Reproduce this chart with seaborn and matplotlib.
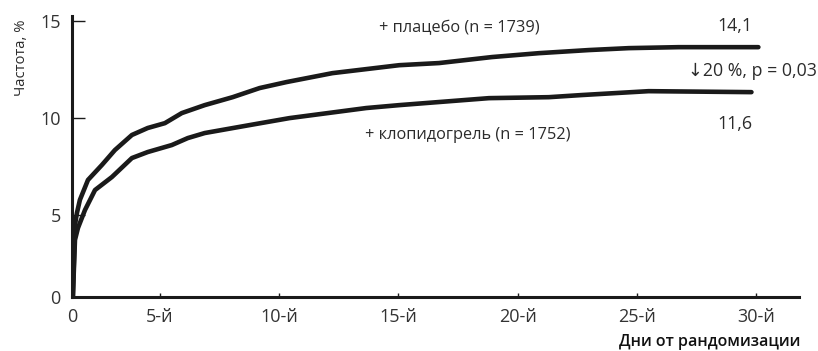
import numpy as np
import pandas as pd
import matplotlib
matplotlib.use("Agg")
import matplotlib.pyplot as plt
import seaborn as sns

# ---- data ----
placebo_days = [0.05, 0.17, 0.28, 0.45, 0.91, 1.70, 2.44, 3.41, 4.31, 5.21, 5.92, 6.88,
                8.05, 9.18, 10.31, 12.23, 15.03, 16.70, 18.92, 20.88, 22.97, 24.65, 26.74, 30.08]
placebo_rate = [0.0, 4.39, 5.10, 5.78, 6.81, 7.58, 8.35, 9.13, 9.49, 9.74, 10.26, 10.67,
                11.08, 11.55, 11.86, 12.32, 12.73, 12.84, 13.15, 13.35, 13.51, 13.61, 13.66, 13.66]
clopi_days = [0.05, 0.17, 0.34, 0.74, 1.31, 2.27, 3.41, 4.31, 5.50, 6.17, 6.88, 8.76,
              10.43, 13.65, 15.03, 18.79, 21.30, 22.68, 25.48, 29.79]
clopi_rate = [0.0, 3.48, 4.21, 5.26, 6.29, 6.96, 7.94, 8.25, 8.61, 8.97, 9.23, 9.64,
              10.0, 10.52, 10.67, 11.03, 11.08, 11.19, 11.39, 11.34]
series_names = ["плацебо", "клопидогрель"]
x_ticks = [0, 5, 10, 15, 20, 25, 30]
x_ticklabels = ["0", "5-й", "10-й", "15-й", "20-й", "25-й", "30-й"]
y_ticks = [0, 5, 10, 15]
label_placebo = "+ плацебо (n = 1739)"
label_clopi = "+ клопидогрель (n = 1752)"
end_placebo = "14,1"
end_clopi = "11,6"
diff_text = "↓20 %, p = 0,03"
x_title = "Дни от рандомизации"
y_title = "Частота, %"

df = pd.DataFrame({
    "day": placebo_days + clopi_days,
    "rate": placebo_rate + clopi_rate,
    "group": [series_names[0]] * len(placebo_days) + [series_names[1]] * len(clopi_days),
})

sns.set_style("ticks")
plt.rcParams["font.family"] = ["Open Sans", "DejaVu Sans"]

fig = plt.figure(figsize=(8.18, 3.51), dpi=100)
ax = fig.add_axes([0.088, 0.154, 0.889, 0.800])

ink = "#1a1a1a"
sns.lineplot(data=df, x="day", y="rate", hue="group", units="group", estimator=None,
             palette=[ink, ink], linewidth=3.3, legend=False, ax=ax, sort=False)

# compressed first segment on both axes (as in the reference)
ax_ = 0.7364
by_ = 0.845
def fx(x):
    x = np.asarray(x, dtype=float)
    return np.where(x <= 5, x * ax_, x - 5 * (1 - ax_))
def ix(t):
    t = np.asarray(t, dtype=float)
    return np.where(t <= 5 * ax_, t / ax_, t + 5 * (1 - ax_))
def fy(y):
    y = np.asarray(y, dtype=float)
    return np.where(y <= 5, y * by_, y - 5 * (1 - by_))
def iy(u):
    u = np.asarray(u, dtype=float)
    return np.where(u <= 5 * by_, u / by_, u + 5 * (1 - by_))

ax.set_xscale("function", functions=(fx, ix))
ax.set_yscale("function", functions=(fy, iy))
ax.set_xlim(0, 31.79)
ax.set_ylim(0, 15.26)

ax.set_xticks(x_ticks)
ax.set_xticklabels(x_ticklabels)
ax.set_yticks(y_ticks)
ax.set_yticklabels([str(v) for v in y_ticks])
ax.xaxis.set_minor_locator(matplotlib.ticker.NullLocator())
ax.yaxis.set_minor_locator(matplotlib.ticker.NullLocator())
ax.tick_params(axis="x", direction="in", length=3, width=1, colors=ink,
               labelsize=13, pad=8, labelcolor="#333333")
ax.tick_params(axis="y", direction="in", length=9, width=1, colors=ink,
               labelsize=13, pad=8, labelcolor="#333333")

for s in ["top", "right"]:
    ax.spines[s].set_visible(False)
for s in ["left", "bottom"]:
    ax.spines[s].set_linewidth(2.2)
    ax.spines[s].set_color(ink)

ax.set_xlabel("")
ax.set_ylabel("")

tc = "#2b2b2b"
fig.text(459 / 818, 1 - 28 / 351, label_placebo, ha="center", va="center", fontsize=11.8, color=tc)
fig.text(468 / 818, 1 - 135 / 351, label_clopi, ha="center", va="center", fontsize=11.8, color=tc)
fig.text(735 / 818, 1 - 26 / 351, end_placebo, ha="center", va="center", fontsize=12.8, color=tc)
fig.text(735 / 818, 1 - 124 / 351, end_clopi, ha="center", va="center", fontsize=12.8, color=tc)
fig.text(817 / 818, 1 - 71 / 351, diff_text, ha="right", va="center", fontsize=12.8, color=tc)
fig.text(800 / 818, 1 - 342 / 351, x_title, ha="right", va="center", fontsize=11.5,
         color="#111111", fontweight="semibold")
fig.text(22 / 818, 1 - 58 / 351, y_title, ha="center", va="center", rotation=90,
         fontsize=10.6, color=tc)

fig.savefig("out.png", dpi=100, facecolor="white")
